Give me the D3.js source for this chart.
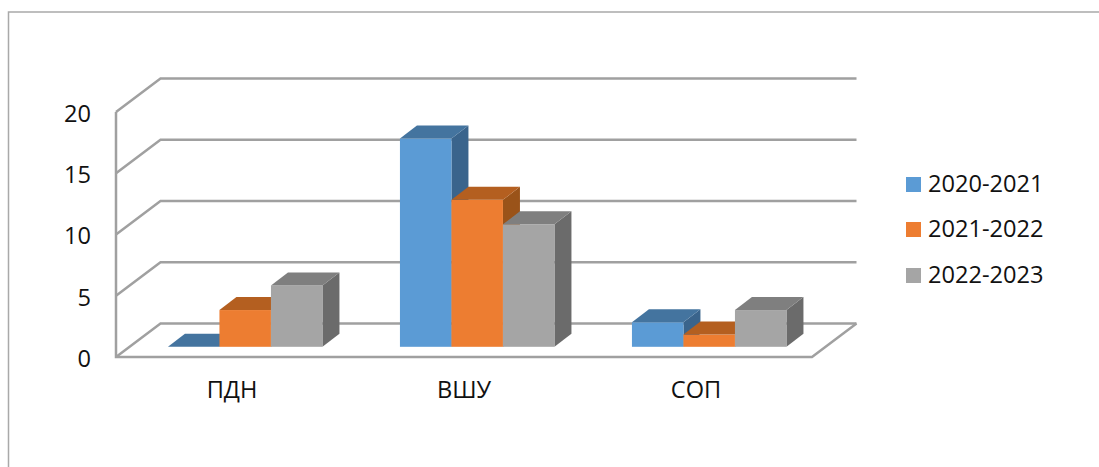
<!DOCTYPE html>
<html>
<head>
<meta charset="utf-8">
<script src="https://cdn.jsdelivr.net/npm/d3@7"></script>
<style>
    html, body { margin: 0; padding: 0; background: #fff; overflow: hidden; }
    svg { display: block; }
    text { font-family: "Open Sans", sans-serif; font-size: 23.6px; fill: #111; }
</style>
</head>
<body>
<div class="svg-target"></div>
<script>
const categories = ['ПДН', 'ВШУ', 'СОП'];
const seriesNames = ['2020-2021', '2021-2022', '2022-2023'];
const values2020 = [0, 17, 2];
const values2021 = [3, 12, 1];
const values2022 = [5, 10, 3];
const yTicks = [0, 5, 10, 15, 20];

const seriesValues = [values2020, values2021, values2022];

const w = 1099;
const h = 467;
const plot = {l: 116, r: 812, t: 112, b: 357};

// depth of the floor and of the bars, 3d look
const wallDx = 44.5;
const wallDy = -33.5;
const barDx = 17;
const barDy = -13;
const barShiftX = 13.2;
const barShiftY = -10.2;

const frontColors = ['#5b9bd5', '#ed7d31', '#a5a5a5'];
const topColors = ['#44749f', '#b45f20', '#7f7f7f'];
const sideColors = ['#3a648c', '#9a5319', '#6b6b6b'];
const lineColor = '#a0a0a0';

const svg = d3.select('.svg-target')
    .append('svg')
    .attr('width', w)
    .attr('height', h);

// outer frame, runs off the right and bottom of the picture
svg.append('path')
    .attr('d', `M8.5,${h + 2}V12H${w + 2}`)
    .attr('fill', 'none')
    .attr('stroke', '#a9a9a9')
    .attr('stroke-width', 1.5);

const xScale = d3.scaleBand()
    .domain(categories)
    .range([plot.l, plot.r]);
const yScale = d3.scaleLinear()
    .domain([0, 20])
    .range([plot.b, plot.t]);
const barScale = d3.scaleBand()
    .domain(d3.range(seriesNames.length))
    .range([0, 154.5]);

// walls and gridlines
const grid = svg.append('g')
    .attr('fill', 'none')
    .attr('stroke', lineColor)
    .attr('stroke-width', 2.5);
grid.selectAll('path.gridline')
    .data(yTicks)
    .join('path')
    .attr('class', 'gridline')
    .attr('d', d => `M${plot.l},${yScale(d)}l${wallDx},${wallDy}H${plot.r + wallDx}`);
grid.append('path')
    .attr('d', `M${plot.l},${yScale(20)}V${plot.b}H${plot.r}l${wallDx},${wallDy}`);

// y axis
const yAxis = d3.axisLeft(yScale)
    .tickValues(yTicks)
    .tickSize(0)
    .tickPadding(25);
const yG = svg.append('g')
    .attr('transform', `translate(${plot.l}, 0)`)
    .call(yAxis);
yG.select('.domain').remove();
yG.selectAll('text').attr('dy', '0.4em');

// x axis
const xAxis = d3.axisBottom(xScale)
    .tickSize(0)
    .tickPadding(24);
const xG = svg.append('g')
    .attr('transform', `translate(0, ${plot.b})`)
    .call(xAxis);
xG.select('.domain').remove();

// bars
const bars = svg.append('g');
categories.forEach((cat, c) => {
    const step = xScale.bandwidth();
    const x0 = xScale(cat) + (step - barScale.range()[1]) / 2 + barShiftX;
    seriesValues.forEach((vals, s) => {
        const x1 = x0 + barScale(s);
        const x2 = x1 + barScale.bandwidth();
        const yTop = yScale(vals[c]) + barShiftY;
        const yBase = yScale(0) + barShiftY;
        const g = bars.append('g');
        if (vals[c] > 0) {
            g.append('path')
                .attr('d', `M${x2},${yTop}l${barDx},${barDy}V${yBase + barDy}L${x2},${yBase}Z`)
                .attr('fill', sideColors[s]);
            g.append('rect')
                .attr('x', x1)
                .attr('y', yTop)
                .attr('width', x2 - x1)
                .attr('height', yBase - yTop)
                .attr('fill', frontColors[s]);
        }
        g.append('path')
            .attr('d', `M${x1},${yTop}l${barDx},${barDy}H${x2 + barDx}L${x2},${yTop}Z`)
            .attr('fill', topColors[s]);
    });
});

// legend
const legend = svg.append('g')
    .selectAll('g')
    .data(seriesNames)
    .join('g')
    .attr('transform', (d, i) => `translate(906, ${[177, 222, 268][i]})`);
legend.append('rect')
    .attr('width', 15)
    .attr('height', 15)
    .attr('fill', (d, i) => frontColors[i]);
legend.append('text')
    .attr('x', 22)
    .attr('y', 15)
    .text(d => d);
</script>
</body>
</html>
